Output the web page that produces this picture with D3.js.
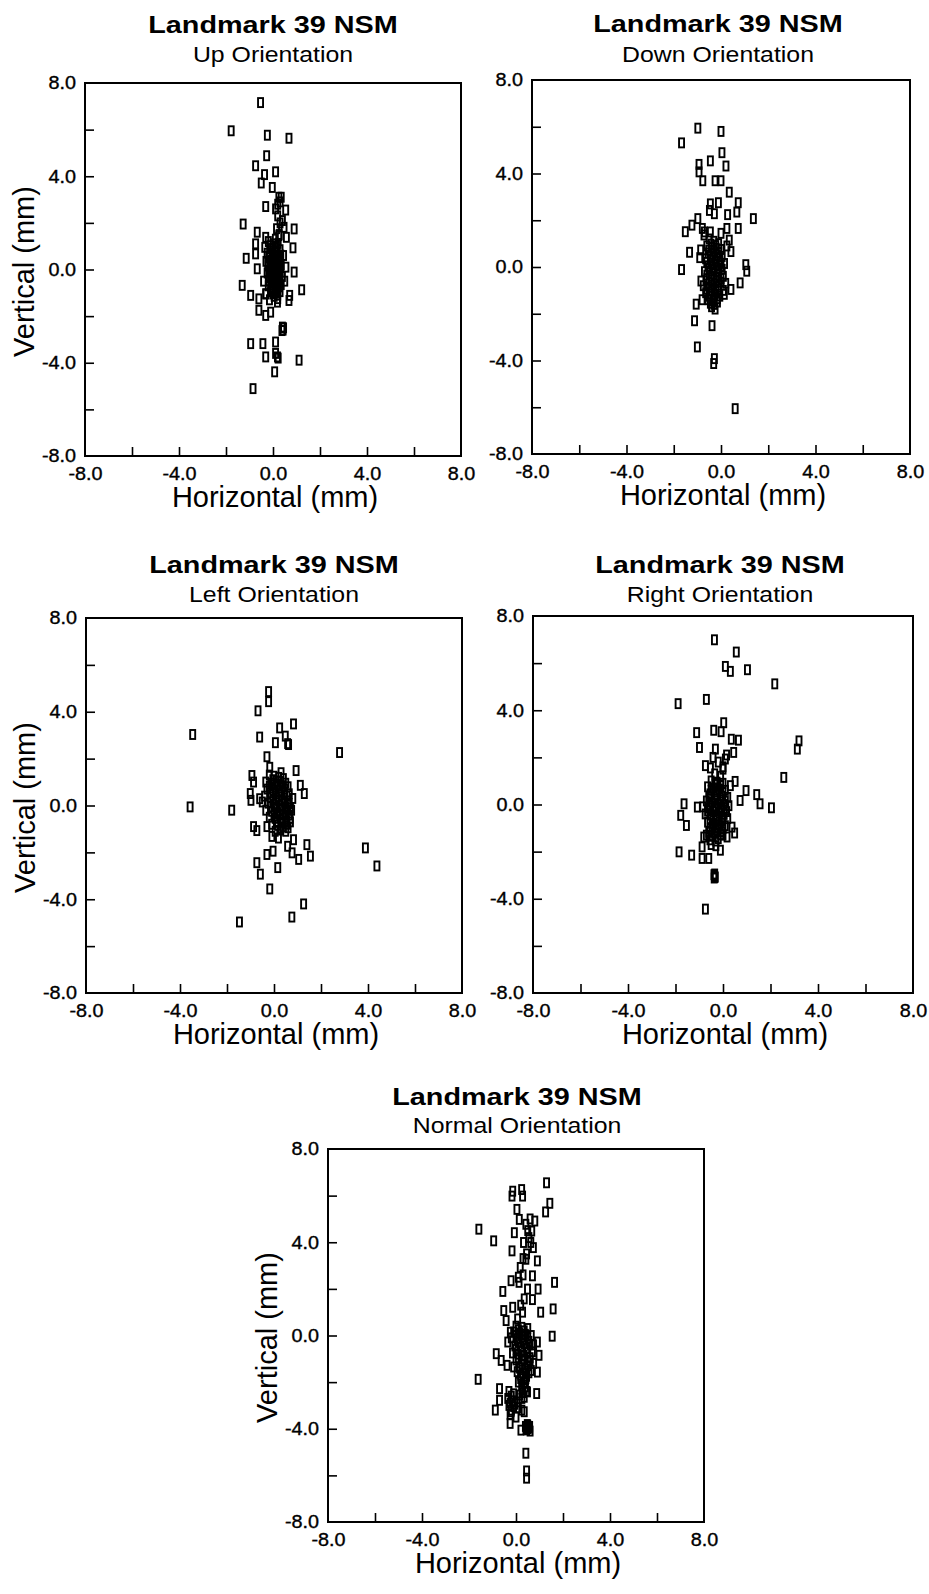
<!DOCTYPE html>
<html>
<head>
<meta charset="utf-8">
<script src="https://cdn.jsdelivr.net/npm/d3@7"></script>
<style>
  html, body { margin: 0; padding: 0; background: #fff; }
  svg { display: block; }
  text { font-family: "Liberation Sans", Arial, Helvetica, sans-serif; fill: #000; }
</style>
</head>
<body>
<svg id="chart" width="929" height="1594"></svg>
<script>
// ---------------- DATA ----------------
const chartTitle = "Landmark 39 NSM";
const subtitles = ["Up Orientation", "Down Orientation", "Left Orientation", "Right Orientation", "Normal Orientation"];
const xAxisLabel = "Horizontal (mm)";
const yAxisLabel = "Vertical (mm)";
const axisDomain = [-8, 8];
const tickMarks = [-6, -4, -2, 0, 2, 4, 6];
const labelTicks = [-8, -4, 0, 4, 8];
const tickLabels = ["-8.0", "-4.0", "0.0", "4.0", "8.0"];

// [horizontal mm, vertical mm]
const upPoints = [
  [-0.53,7.16],[-1.78,5.95],[-0.24,5.76],[0.68,5.63],[-0.27,4.88],[-0.74,4.45],[0.11,4.19],[-0.36,4.07],
  [-0.50,3.71],[-0.03,3.52],[0.25,3.1],[0.3,2.9],[0.35,3.1],[0.2,2.8],[-0.31,2.70],[0.11,2.6],[0.54,2.55],
  [0.4,2.1],[-1.27,1.95],[0.47,1.81],[0.9,1.74],[-0.67,1.60],[-0.31,1.38],[0.26,1.5],[-0.74,1.1],[0.57,1.38],
  [0.85,0.93],[-1.14,0.48],[-0.74,0.67],[-0.67,0.03],[0.9,-0.11],[-1.31,-0.68],[1.22,-0.87],[-0.95,-1.11],
  [-0.6,-1.26],[-0.31,-1.04],[0.71,-1.11],[0.68,-1.33],[0.19,-1.4],[-0.6,-1.75],[-0.31,-1.97],[-0.1,-1.83],
  [0.4,-2.47],[0.43,-2.6],[0.45,-2.5],[0.38,-2.62],[-0.95,-3.18],[-0.43,-3.18],[0.11,-3.11],[-0.31,-3.75],
  [0.19,-3.75],[0.11,-3.6],[0.22,-3.8],[1.11,-3.89],[0.07,-4.39],[-0.85,-5.11],
  [-0.2,1.2],[0.0,1.1],[0.15,1.0],[-0.1,0.9],[0.1,0.8],[0.3,0.85],[-0.25,0.7],[0.0,0.65],[0.2,0.6],
  [-0.15,0.5],[0.05,0.45],[0.25,0.4],[-0.3,0.35],[-0.05,0.3],[0.15,0.25],[0.35,0.2],[-0.2,0.15],[0.0,0.1],
  [0.2,0.05],[-0.1,0.0],[0.1,-0.05],[0.3,-0.1],[-0.25,-0.15],[0.0,-0.2],[0.2,-0.25],[0.4,-0.3],[-0.15,-0.35],
  [0.05,-0.4],[0.25,-0.45],[-0.05,-0.55],[0.15,-0.6],[0.35,-0.65],[-0.2,-0.7],[0.0,-0.8],[0.2,-0.85],
  [-0.1,-0.95],[0.1,-1.0],[0.3,-0.95],[-0.3,-1.05],[0.05,-1.15],[-0.15,-1.3],[0.2,-1.25],[0.5,-0.5],
  [0.55,0.1],[0.45,0.6],[-0.35,0.95],[-0.4,-0.5],[0.1,1.3],[0.25,1.45],[0.2,2.3],[0.3,2.0],[0.15,1.75],
  [-0.12,1.02],[0.08,0.95],[0.22,1.12],[-0.02,0.78],[0.18,0.72],[0.33,0.62],[-0.18,0.58],[0.08,0.55],
  [0.28,0.5],[-0.08,0.4],[0.12,0.38],[0.3,0.32],[-0.22,0.28],[0.02,0.22],[0.22,0.15],[-0.12,0.08],
  [0.08,0.02],[0.28,0.0],[-0.18,-0.05],[0.02,-0.08],[0.18,-0.12],[-0.08,-0.25],[0.12,-0.3],[0.3,-0.35],
  [-0.2,-0.48],[0.0,-0.5],[0.2,-0.55],[-0.1,-0.65],[0.1,-0.7],[0.28,-0.75],[-0.05,-0.88],[0.15,-0.9],
  [0.0,-1.05],[0.2,-1.1]
];
const downPoints = [
  [-0.98,5.94],[0.0,5.8],[-1.67,5.31],[0.04,4.89],[-0.45,4.54],[-0.93,4.39],[0.21,4.32],[-0.93,4.07],
  [-0.77,3.69],[-0.25,3.69],[0.0,3.69],[0.35,3.2],[-0.45,2.7],[-0.11,2.75],[0.73,2.75],[-0.49,2.42],
  [-0.28,2.28],[0.28,2.24],[0.67,2.35],[1.37,2.07],[-0.98,2.07],[-1.23,1.79],[-0.79,1.65],[-1.51,1.51],
  [0.25,1.65],[0.73,1.65],[-0.72,1.37],[0.0,1.44],[0.35,1.15],[-1.33,0.63],[-0.86,0.73],[0.42,0.66],
  [1.05,0.1],[1.09,-0.18],[-1.67,-0.11],[0.81,-0.68],[0.42,-0.96],[0.14,-1.17],[-1.05,-1.59],[-1.12,-2.3],
  [-0.38,-2.51],[-1.0,-3.42],[-0.28,-3.92],[-0.31,-4.13],[0.6,-6.06],
  [-0.5,1.2],[-0.3,1.1],[-0.1,1.0],[-0.6,0.9],[-0.4,0.85],[-0.2,0.8],[0.0,0.75],[-0.55,0.6],[-0.35,0.55],
  [-0.15,0.5],[0.05,0.45],[-0.65,0.35],[-0.45,0.3],[-0.25,0.25],[-0.05,0.2],[0.15,0.15],[-0.55,0.05],
  [-0.35,0.0],[-0.15,-0.05],[0.05,-0.1],[-0.7,-0.2],[-0.5,-0.25],[-0.3,-0.3],[-0.1,-0.35],[0.1,-0.4],
  [-0.6,-0.5],[-0.4,-0.55],[-0.2,-0.6],[0.0,-0.65],[-0.75,-0.8],[-0.5,-0.85],[-0.3,-0.9],[-0.1,-0.95],
  [0.1,-1.0],[-0.65,-1.1],[-0.45,-1.15],[-0.25,-1.2],[-0.05,-1.25],[-0.55,-1.4],[-0.35,-1.45],[-0.15,-1.5],
  [-0.4,-1.7],[-0.25,-1.8],[-0.8,-1.4],[-0.9,0.4],[-0.85,-0.6],[0.25,0.9],[0.2,-0.7],[-0.7,1.5],[-0.45,1.5],
  [-0.42,0.98],[-0.22,0.92],[-0.52,0.72],[-0.3,0.68],[-0.1,0.62],[-0.45,0.45],[-0.25,0.4],[-0.05,0.35],
  [-0.6,0.2],[-0.4,0.15],[-0.2,0.1],[0.0,0.05],[-0.5,-0.08],[-0.3,-0.12],[-0.1,-0.18],[-0.6,-0.35],
  [-0.4,-0.4],[-0.2,-0.45],[0.0,-0.5],[-0.5,-0.68],[-0.3,-0.72],[-0.1,-0.78],[-0.6,-0.95],[-0.4,-1.0],
  [-0.2,-1.05],[-0.5,-1.25],[-0.3,-1.3],[-0.45,-1.55],[-0.3,-1.6],[-0.15,-1.35]
];
const leftPoints = [
  [-0.23,4.86],[-0.23,4.43],[-0.68,4.04],[-3.46,3.03],[0.83,3.48],[0.24,3.31],[-0.61,2.92],[0.06,2.68],
  [0.48,2.96],[0.58,2.64],[0.62,2.6],[2.79,2.26],[-0.3,2.08],[-0.18,1.63],[0.94,1.49],[-0.94,1.28],[-0.87,1.0],
  [1.12,0.86],[1.29,0.51],[-1.01,0.51],[-0.98,0.22],[-0.61,0.29],[-3.57,-0.06],[-1.8,-0.2],[-0.73,-1.07],
  [-0.87,-0.9],[0.19,-1.39],[0.83,-1.46],[-0.09,-1.32],[0.58,-1.74],[1.4,-1.67],[1.55,-2.16],[1.05,-2.3],
  [0.77,-2.02],[-0.3,-2.09],[-0.04,-1.95],[3.89,-1.81],[4.38,-2.58],[-0.73,-2.44],[-0.58,-2.93],[0.16,-2.65],
  [-0.18,-3.56],[1.26,-4.2],[0.76,-4.76],[-1.47,-4.97],
  [-0.2,1.3],[0.0,1.25],[0.2,1.2],[0.4,1.15],[-0.35,1.0],[-0.1,0.95],[0.15,0.9],[0.35,0.85],[0.6,0.8],
  [-0.3,0.7],[-0.05,0.65],[0.2,0.6],[0.45,0.55],[0.65,0.5],[-0.4,0.4],[-0.15,0.35],[0.1,0.3],[0.35,0.25],
  [0.6,0.2],[-0.25,0.1],[0.0,0.05],[0.25,0.0],[0.5,-0.05],[0.7,-0.1],[-0.35,-0.2],[-0.1,-0.25],[0.15,-0.3],
  [0.4,-0.35],[0.65,-0.4],[-0.2,-0.5],[0.05,-0.55],[0.3,-0.6],[0.55,-0.65],[0.7,-0.7],[-0.1,-0.8],[0.15,-0.85],
  [0.4,-0.9],[0.6,-0.95],[0.25,-1.05],[-0.3,-0.9],[0.5,0.95],[0.8,0.3],[0.75,-0.2],[-0.5,0.15],[0.3,1.4],[0.05,-1.1],
  [-0.05,1.1],[0.1,1.05],[0.28,1.02],[-0.2,0.82],[0.05,0.78],[0.25,0.75],[0.45,0.7],[-0.15,0.55],
  [0.1,0.5],[0.3,0.45],[0.55,0.4],[-0.05,0.22],[0.2,0.18],[0.45,0.12],[0.65,0.08],[-0.15,-0.05],
  [0.1,-0.1],[0.35,-0.15],[0.58,-0.2],[0.0,-0.38],[0.25,-0.42],[0.5,-0.48],[0.68,-0.55],[0.1,-0.68],
  [0.35,-0.72],[0.55,-0.8],[0.3,-0.95],[0.5,-1.1]
];
const rightPoints = [
  [-0.36,6.99],[0.56,6.47],[0.1,5.86],[0.31,5.65],[1.03,5.72],[2.18,5.12],[-1.89,4.28],[-0.7,4.46],
  [0.03,3.47],[-0.39,3.15],[-0.08,3.09],[-1.11,3.05],[0.35,2.77],[0.65,2.73],[3.2,2.7],[3.13,2.35],
  [-0.99,2.42],[-0.32,2.35],[0.45,2.21],[-0.42,2.0],[0.1,1.93],[-0.74,1.65],[-0.53,1.55],[0.0,1.5],
  [2.56,1.15],[0.51,0.98],[0.31,0.8],[0.97,0.59],[0.72,0.17],[1.42,0.42],[1.56,0.03],[2.04,-0.14],
  [-1.64,0.03],[-1.08,-0.11],[-1.78,-0.46],[-1.54,-0.89],[0.38,-0.96],[0.49,-1.21],[0.17,-1.38],
  [-0.81,-1.38],[-0.88,-1.8],[-0.11,-1.94],[-1.85,-2.01],[-1.32,-2.15],[-0.88,-2.29],[-0.6,-2.29],
  [-0.36,-3.04],[-0.34,-3.1],[-0.38,-2.98],[-0.74,-4.44],
  [-0.5,1.0],[-0.25,0.95],[0.0,0.9],[-0.65,0.75],[-0.4,0.7],[-0.15,0.65],[0.1,0.6],[-0.55,0.45],[-0.3,0.4],
  [-0.05,0.35],[0.2,0.3],[-0.7,0.15],[-0.45,0.1],[-0.2,0.05],[0.05,0.0],[0.25,-0.05],[-0.6,-0.15],
  [-0.35,-0.2],[-0.1,-0.25],[0.15,-0.3],[-0.75,-0.4],[-0.5,-0.45],[-0.25,-0.5],[0.0,-0.55],[0.2,-0.6],
  [-0.65,-0.75],[-0.4,-0.8],[-0.15,-0.85],[0.1,-0.9],[-0.55,-1.05],[-0.3,-1.1],[-0.05,-1.15],[-0.7,-1.3],
  [-0.45,-1.35],[-0.2,-1.45],[0.0,-1.3],[-0.85,-0.1],[-0.1,1.2],[-0.35,1.3],[0.0,1.6],[-0.2,1.8],[0.15,2.1],
  [-0.5,-1.7],[-0.3,-1.75],
  [-0.35,0.85],[-0.1,0.8],[-0.5,0.6],[-0.25,0.55],[0.0,0.5],[-0.6,0.3],[-0.35,0.25],[-0.1,0.2],[0.1,0.15],
  [-0.55,0.0],[-0.3,-0.05],[-0.05,-0.1],[0.12,-0.15],[-0.65,-0.28],[-0.4,-0.32],[-0.15,-0.38],[0.05,-0.42],
  [-0.55,-0.6],[-0.3,-0.65],[-0.05,-0.7],[-0.45,-0.92],[-0.2,-0.98],[0.0,-1.02],[-0.6,-1.18],[-0.35,-1.22],
  [-0.1,-1.28],[-0.55,-1.5],[-0.3,-1.55],[-0.33,-3.07],[-0.37,-3.12],[-0.35,-2.95]
];
const normalPoints = [
  [1.3,6.55],[-0.14,6.19],[-0.17,5.98],[0.24,6.26],[0.28,5.98],[1.44,5.67],[1.26,5.3],[0.04,5.41],
  [0.14,4.98],[0.42,4.77],[0.8,4.91],[-1.58,4.56],[-0.07,4.41],[0.67,4.48],[-0.95,4.06],[0.32,3.99],
  [0.63,3.99],[-0.17,3.63],[0.74,3.77],[0.42,3.27],[0.91,3.2],[0.18,2.92],[0.7,2.56],[-0.21,2.35],
  [0.13,2.28],[1.64,2.28],[-0.56,1.89],[0.49,1.99],[0.94,1.99],[0.35,1.57],[0.7,1.54],[-0.14,1.21],
  [-0.52,1.07],[0.28,1.0],[1.05,1.0],[1.58,1.14],[-0.42,0.64],[0.07,0.71],[1.54,-0.03],[-0.24,0.14],
  [-0.35,-0.28],[-0.84,-0.78],[-0.63,-1.07],[-0.38,-1.28],[0.91,-0.28],[0.98,-0.85],[0.91,-1.57],
  [-1.61,-1.88],[-0.7,-2.28],[-0.7,-2.78],[-0.88,-3.2],[-0.21,-3.27],[-0.25,-3.77],[0.35,-3.27],
  [0.88,-2.49],[0.49,-2.42],[0.42,-1.85],[0.21,-4.06],[0.42,-5.05],[0.45,-5.81],[0.45,-6.12],
  [0.0,0.4],[0.25,0.35],[0.5,0.3],[-0.1,0.15],[0.15,0.1],[0.4,0.05],[0.65,0.0],[-0.2,-0.1],[0.05,-0.15],
  [0.3,-0.2],[0.55,-0.25],[0.75,-0.4],[-0.05,-0.45],[0.2,-0.5],[0.45,-0.55],[0.7,-0.7],[-0.15,-0.75],
  [0.1,-0.8],[0.35,-0.85],[0.6,-0.95],[0.0,-1.05],[0.25,-1.1],[0.5,-1.15],[0.75,-1.2],[-0.1,-1.35],
  [0.15,-1.4],[0.4,-1.45],[0.65,-1.5],[0.2,-1.7],[0.45,-1.75],[0.1,-2.0],[0.35,-2.05],[0.25,-2.3],
  [0.45,-2.4],[0.15,-2.55],[0.35,-2.65],[-0.3,-2.4],[-0.1,-2.5],[-0.35,-2.7],[-0.15,-2.8],[0.05,-2.85],
  [-0.3,-3.0],[-0.1,-3.05],[0.1,-3.1],[-0.25,-3.4],[0.0,-3.5],[0.4,-3.9],[0.55,-3.95],[0.5,-3.85],
  [0.6,-4.1],[0.45,-4.05],[0.25,-3.2],[0.1,2.5],[0.3,2.6],[0.45,3.5],[0.3,3.3],[0.55,4.2],[0.5,4.5],
  [0.6,5.0],[0.2,1.3],
  [0.1,0.25],[0.35,0.2],[0.0,0.0],[0.25,-0.05],[0.5,-0.1],[0.1,-0.3],[0.35,-0.35],[0.6,-0.4],[0.0,-0.6],
  [0.25,-0.65],[0.5,-0.7],[0.1,-0.95],[0.35,-1.0],[0.6,-1.05],[0.25,-1.25],[0.5,-1.3],[0.05,-1.55],
  [0.3,-1.6],[0.55,-1.6],[0.2,-1.85],[0.4,-1.9],[0.25,-2.15],[0.4,-2.2],[0.3,-2.45],[0.25,-2.7],
  [-0.2,-2.6],[-0.25,-2.9],[-0.05,-2.95],[-0.2,-3.2],[0.45,-3.95],[0.52,-4.0],[0.48,-3.82],[0.58,-3.9]
];

// ---------------- LAYOUT ----------------
const panels = [
  { pts: upPoints,     sub: subtitles[0], x0: 85,  x1: 461, y0: 83,   y1: 456,  tx: 273, ty: 33,   sy: 62,   ylab: true },
  { pts: downPoints,   sub: subtitles[1], x0: 532, x1: 910, y0: 80,   y1: 454,  tx: 718, ty: 32,   sy: 62,   ylab: false },
  { pts: leftPoints,   sub: subtitles[2], x0: 86,  x1: 462, y0: 618,  y1: 993,  tx: 274, ty: 573,  sy: 602,  ylab: true },
  { pts: rightPoints,  sub: subtitles[3], x0: 533, x1: 913, y0: 616,  y1: 993,  tx: 720, ty: 573,  sy: 602,  ylab: false },
  { pts: normalPoints, sub: subtitles[4], x0: 328, x1: 704, y0: 1149, y1: 1522, tx: 517, ty: 1105, sy: 1133, ylab: true }
];

const svg = d3.select("#chart");
const tickSX = 1.1;

panels.forEach(p => {
  const g = svg.append("g");
  const x = d3.scaleLinear().domain(axisDomain).range([p.x0, p.x1]);
  const y = d3.scaleLinear().domain(axisDomain).range([p.y1, p.y0]);

  // titles
  g.append("text")
    .attr("transform", `translate(${p.tx},${p.ty}) scale(1.2,1)`)
    .attr("text-anchor", "middle")
    .attr("font-size", 24).attr("font-weight", "bold")
    .text(chartTitle);
  g.append("text")
    .attr("transform", `translate(${p.tx},${p.sy}) scale(1.13,1)`)
    .attr("text-anchor", "middle")
    .attr("font-size", 22)
    .text(p.sub);

  // points
  g.append("g").selectAll("rect").data(p.pts).join("rect")
    .attr("x", d => x(d[0]) - 2.5)
    .attr("y", d => y(d[1]) - 4.5)
    .attr("width", 5).attr("height", 9)
    .attr("fill", "none").attr("stroke", "#000").attr("stroke-width", 1.9);

  // tick marks (inward)
  const xm = g.append("g").attr("transform", `translate(0,${p.y1})`)
    .call(d3.axisBottom(x).tickValues(tickMarks).tickSize(-9).tickFormat(""));
  xm.select(".domain").remove();
  xm.selectAll("line").attr("stroke-width", 1.6);
  const ym = g.append("g").attr("transform", `translate(${p.x0},0)`)
    .call(d3.axisLeft(y).tickValues(tickMarks).tickSize(-9).tickFormat(""));
  ym.select(".domain").remove();
  ym.selectAll("line").attr("stroke-width", 1.6);

  // tick labels
  const xl = g.append("g").attr("transform", `translate(0,${p.y1})`)
    .call(d3.axisBottom(x).tickValues(labelTicks).tickSize(0).tickPadding(11)
      .tickFormat((d, i) => tickLabels[i]));
  xl.select(".domain").remove();
  xl.selectAll("text").attr("font-size", 18).attr("font-family", null)
    .attr("stroke", "#000").attr("stroke-width", 0.35)
    .attr("transform", `scale(${tickSX},1)`);
  const yl = g.append("g").attr("transform", `translate(${p.x0},0)`)
    .call(d3.axisLeft(y).tickValues(labelTicks).tickSize(0).tickPadding(9)
      .tickFormat((d, i) => tickLabels[i]));
  yl.select(".domain").remove();
  yl.selectAll("text").attr("font-size", 18).attr("font-family", null)
    .attr("stroke", "#000").attr("stroke-width", 0.35)
    .attr("x", -9 / tickSX)
    .attr("transform", `scale(${tickSX},1)`);

  // frame
  g.append("rect")
    .attr("x", p.x0).attr("y", p.y0)
    .attr("width", p.x1 - p.x0).attr("height", p.y1 - p.y0)
    .attr("fill", "none").attr("stroke", "#000").attr("stroke-width", 2);

  // axis titles
  g.append("text")
    .attr("x", (p.x0 + p.x1) / 2 + 2).attr("y", p.y1 + 51)
    .attr("text-anchor", "middle").attr("font-size", 29)
    .text(xAxisLabel);
  if (p.ylab) {
    g.append("text")
      .attr("transform", `translate(${p.x0 - 51},${(p.y0 + p.y1) / 2 + 2}) rotate(-90)`)
      .attr("text-anchor", "middle").attr("font-size", 29)
      .text(yAxisLabel);
  }
});
</script>
</body>
</html>
